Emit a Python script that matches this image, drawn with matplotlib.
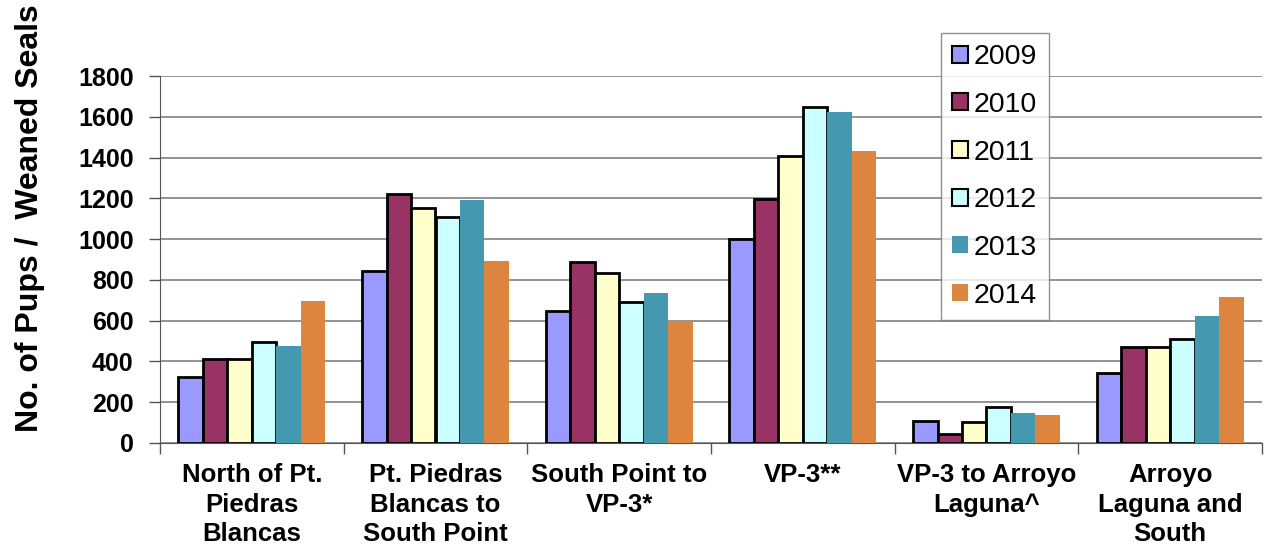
import matplotlib
matplotlib.use("Agg")
import matplotlib.pyplot as plt
from matplotlib.patches import Patch
import numpy as np

plt.rcParams['font.family'] = ['Liberation Sans', 'DejaVu Sans']

areas = ['North of Pt.\nPiedras\nBlancas', 'Pt. Piedras\nBlancas to\nSouth Point',
         'South Point to\nVP-3*', 'VP-3**', 'VP-3 to Arroyo\nLaguna^', 'Arroyo\nLaguna and\nSouth']
years = ['2009', '2010', '2011', '2012', '2013', '2014']
v2009 = [325, 843, 645, 1000, 110, 345]
v2010 = [410, 1220, 890, 1195, 45, 470]
v2011 = [412, 1155, 835, 1410, 103, 470]
v2012 = [495, 1110, 690, 1650, 176, 510]
v2013 = [475, 1190, 735, 1625, 147, 625]
v2014 = [698, 895, 600, 1430, 137, 715]
series = [v2009, v2010, v2011, v2012, v2013, v2014]
colors = ['#9999FF', '#993366', '#FFFFCC', '#CCFFFF', '#4499B1', '#DD843F']
edged = [True, True, True, True, False, False]

fig = plt.figure(figsize=(12.64, 5.5), dpi=100)
ax = fig.add_axes([160/1264, 1-443/550, 1102/1264, 367/550])

x = np.arange(len(areas))
w = 0.8 / 6
for i, vals in enumerate(series):
    pos = x - 0.4 + w * (i + 0.5)
    if edged[i]:
        ax.bar(pos, vals, w, color=colors[i], edgecolor='black', linewidth=2, zorder=3)
    else:
        ax.bar(pos, vals, w, color=colors[i], linewidth=0, zorder=3)

ax.set_xlim(-0.5, len(areas) - 0.5)
ax.set_ylim(0, 1800)
ax.set_yticks(range(0, 1801, 200))
ax.yaxis.grid(True, color='#808080', linewidth=1.2, zorder=0)
for s in ['top', 'right']:
    ax.spines[s].set_visible(False)
ax.spines['left'].set_color('#555555')
ax.spines['bottom'].set_color('#555555')
ax.tick_params(axis='y', length=8, width=1, color='#555555', labelsize=18, pad=11)
for lbl in ax.get_yticklabels():
    lbl.set_fontweight('bold')

ax.set_xticks(np.arange(-0.5, len(areas), 1.0))
ax.set_xticklabels([])
ax.tick_params(axis='x', length=8, width=1, color='#555555')
for i, name in enumerate(areas):
    ax.text(i, -100, name, ha='center', va='top', fontsize=18.5, fontweight='bold',
            linespacing=1.27)

fig.text(30/1264, 1-218/550, 'No. of Pups /  Weaned Seals', rotation=90, ha='center',
         va='center', fontsize=23, fontweight='bold')

handles = []
for i in range(6):
    if edged[i]:
        handles.append(Patch(facecolor=colors[i], edgecolor='black', linewidth=1.5))
    else:
        handles.append(Patch(facecolor=colors[i], linewidth=0))
leg = fig.legend(handles, years, loc='upper left', bbox_to_anchor=(941/1264, 1-33/550),
                 fontsize=20.5, frameon=True, fancybox=False, edgecolor='#777777',
                 handlelength=0.54, handleheight=0.54, handletextpad=0.22,
                 labelspacing=0.76, borderpad=0.4, borderaxespad=0)
leg.get_frame().set_linewidth(1)

fig.savefig('out.png', dpi=100)
